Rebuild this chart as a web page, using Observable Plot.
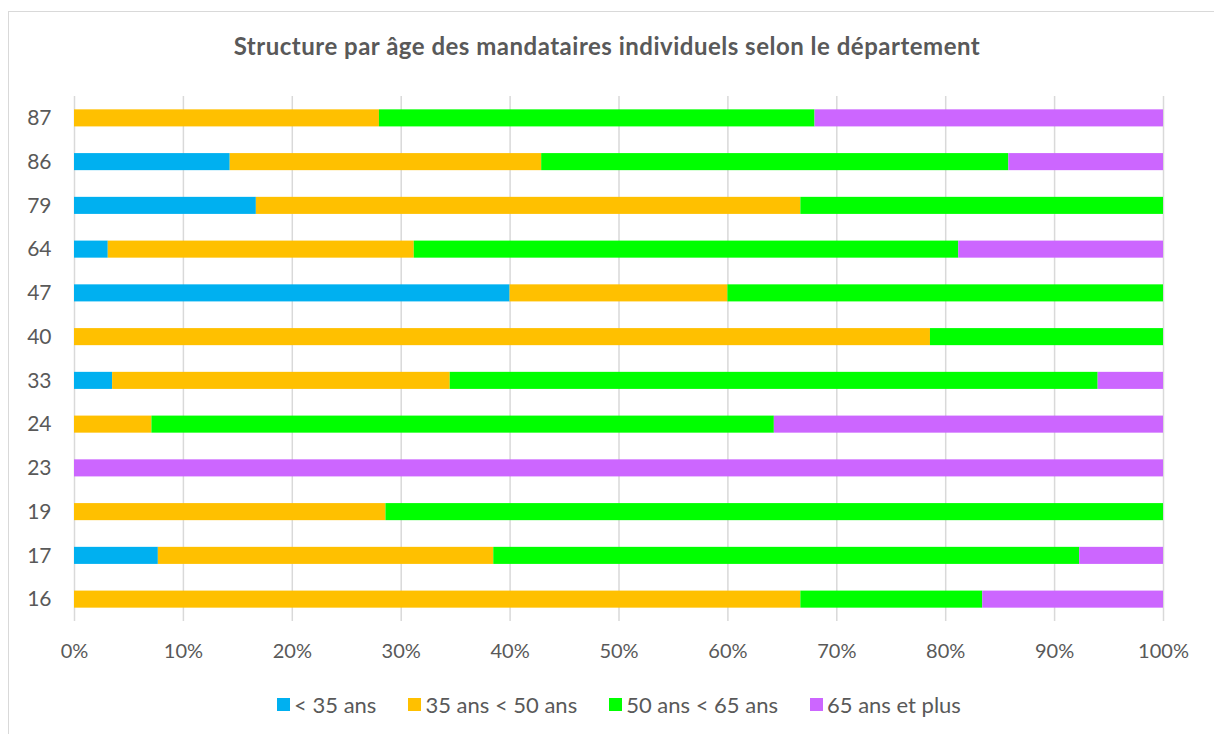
<!DOCTYPE html>
<html>
<head>
<meta charset="utf-8">
<script src="https://cdn.jsdelivr.net/npm/d3@7"></script>
<script src="https://cdn.jsdelivr.net/npm/@observablehq/plot@0.6"></script>
<style>
  html, body { margin: 0; padding: 0; background: #fff; }
  body { width: 1214px; height: 734px; position: relative; overflow: hidden; font-family: Lato, "Open Sans", sans-serif; }
  #frame { position: absolute; left: 8px; top: 11px; width: 1220px; height: 740px; border: 1px solid #d9d9d9; box-sizing: border-box; }
  #title { position: absolute; left: 0; top: 31px; width: 1214px; text-align: center; font-size: 24px; letter-spacing: 0.5px; font-weight: bold; color: #595959; }
  #chart { position: absolute; left: 0; top: 0; }
  #legend { position: absolute; left: 12px; top: 691px; width: 1214px; display: flex; justify-content: center; gap: 32px; font-size: 22px; color: #595959; }
  .item { display: flex; align-items: center; gap: 4px; }
  .sw { width: 13px; height: 13px; display: inline-block; }
</style>
</head>
<body>
<div id="frame"></div>
<div id="title">Structure par âge des mandataires individuels selon le département</div>
<div id="chart"></div>
<div id="legend"></div>
<script>
const departements = ["16","17","19","23","24","33","40","47","64","79","86","87"];
const ageGroups = ["< 35 ans", "35 ans < 50 ans", "50 ans < 65 ans", "65 ans et plus"];
const ageColors = ["#00B0F0", "#FFC000", "#00FF00", "#CC66FF"];
const moins35   = [0,    7.7,  0,    0,   0,    3.5,  0,    40, 3.1,  16.7, 14.3, 0];
const de35a50   = [66.7, 30.8, 28.6, 0,   7.1,  31.0, 78.6, 20, 28.1, 50,   28.6, 28];
const de50a65   = [16.7, 53.8, 71.4, 0,   57.1, 59.5, 21.4, 40, 50,   33.3, 42.9, 40];
const plus65    = [16.6, 7.7,  0,    100, 35.7, 6.0,  0,    0,  18.8, 0,    14.2, 32];
const xTicks = [0, 0.1, 0.2, 0.3, 0.4, 0.5, 0.6, 0.7, 0.8, 0.9, 1];

const series = [moins35, de35a50, de50a65, plus65];
const rows = [];
departements.forEach((d, i) => {
  ageGroups.forEach((g, j) => {
    rows.push({dept: d, age: g, value: series[j][i]});
  });
});

const chart = Plot.plot({
  width: 1214,
  height: 680,
  marginLeft: 74,
  marginRight: 51,
  marginTop: 96,
  marginBottom: 59,
  style: {fontFamily: 'Lato, "Open Sans", sans-serif', fontSize: "20px", color: "#595959", background: "transparent"},
  x: {domain: [0, 1]},
  y: {domain: departements.slice().reverse(), paddingInner: 0.61, paddingOuter: 0.305, align: 0.5, round: false},
  color: {domain: ageGroups, range: ageColors},
  marks: [
    Plot.gridX(xTicks, {stroke: "#d9d9d9", strokeOpacity: 1, strokeWidth: 1.5}),
    Plot.barX(rows, Plot.stackX({offset: "normalize", order: null}, {y: "dept", x: "value", fill: "age", inset: 0})),
    Plot.axisX(xTicks, {tickSize: 0, tickPadding: 22, tickFormat: d => Math.round(d * 100) + "%", fill: "#595959", fontSize: 20, label: null}),
    Plot.axisY({tickSize: 0, tickPadding: 23, fill: "#595959", fontSize: 21, label: null})
  ]
});
document.getElementById("chart").appendChild(chart);

const legend = document.getElementById("legend");
ageGroups.forEach((g, i) => {
  const it = document.createElement("div");
  it.className = "item";
  const sw = document.createElement("span");
  sw.className = "sw";
  sw.style.background = ageColors[i];
  const t = document.createElement("span");
  t.textContent = g;
  it.appendChild(sw);
  it.appendChild(t);
  legend.appendChild(it);
});
</script>
</body>
</html>
